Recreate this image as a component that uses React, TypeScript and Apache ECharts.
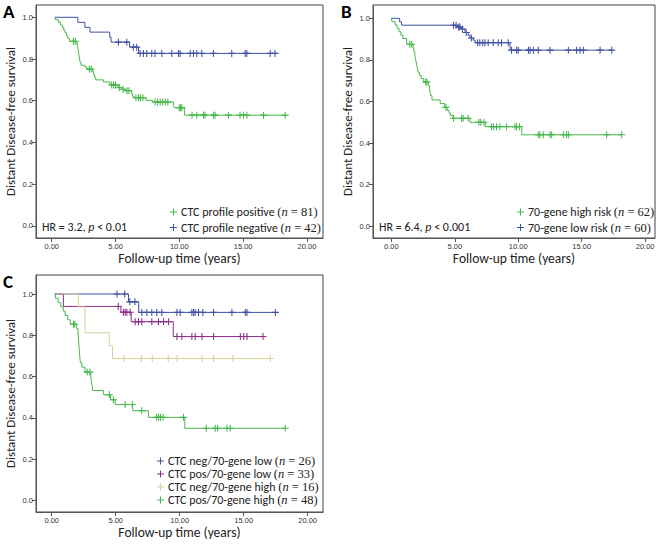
import React, { useEffect, useRef } from "react";
import * as echarts from "echarts";

// ---------- tick labels ----------
const xTickValues = [0, 5, 10, 15, 20];
const yTickValues = [0, 0.2, 0.4, 0.6, 0.8, 1.0];

// ---------- Panel A ----------
const aPosEventT = [0.25, 0.3, 0.55, 0.7, 0.85, 0.95, 1.05, 1.15, 1.25, 1.4, 1.96, 2.02, 2.06, 2.1, 2.13, 2.16, 2.19, 2.22, 2.3, 2.6, 2.75, 3.2, 3.27, 3.35, 3.45, 4.05, 4.57, 5.2, 5.5, 5.8, 6.27, 6.35, 6.45, 7.4, 7.9, 9.55, 9.6, 10.4];
const aPosEventS = [1.0, 0.988, 0.975, 0.963, 0.95, 0.938, 0.926, 0.913, 0.9, 0.885, 0.872, 0.86, 0.848, 0.835, 0.823, 0.81, 0.798, 0.785, 0.77, 0.762, 0.752, 0.74, 0.727, 0.714, 0.7, 0.69, 0.676, 0.663, 0.655, 0.648, 0.632, 0.622, 0.614, 0.602, 0.594, 0.58, 0.567, 0.531];
const aPosCensorT = [1.7, 1.85, 2.95, 3.1, 4.7, 4.85, 5.0, 5.3, 5.6, 5.9, 6.05, 6.6, 6.8, 6.95, 7.15, 8.1, 8.3, 8.5, 8.7, 8.9, 9.1, 10.0, 10.1, 10.2, 11.0, 11.37, 11.89, 12.02, 12.67, 12.8, 13.85, 14.76, 15.03, 15.29, 16.6, 18.3];

const aNegEventT = [0.25, 2.05, 2.6, 3.0, 4.55, 4.65, 6.1, 6.8];
const aNegEventS = [1.0, 0.976, 0.952, 0.929, 0.905, 0.881, 0.857, 0.827];
const aNegCensorT = [5.23, 5.88, 6.4, 6.66, 6.93, 7.19, 7.45, 7.84, 8.1, 8.63, 9.41, 9.93, 10.06, 10.85, 11.11, 11.37, 11.76, 12.67, 14.11, 15.16, 15.29, 17.12, 17.5];

// ---------- Panel B ----------
const bHighEventT = [0, 0.05, 0.3, 0.45, 0.6, 0.75, 0.9, 1.2, 1.72, 1.78, 1.85, 1.9, 1.95, 2.0, 2.05, 2.1, 2.2, 2.35, 2.55, 2.9, 3.0, 3.05, 3.1, 3.2, 3.85, 4.2, 4.4, 4.55, 4.65, 4.85, 6.2, 7.4, 10.28];
const bHighEventS = [1.0, 0.984, 0.968, 0.952, 0.935, 0.919, 0.903, 0.875, 0.855, 0.839, 0.823, 0.806, 0.79, 0.774, 0.758, 0.742, 0.726, 0.71, 0.694, 0.677, 0.661, 0.645, 0.629, 0.608, 0.59, 0.572, 0.557, 0.545, 0.533, 0.52, 0.5, 0.479, 0.44];
const bHighCensorT = [1.45, 1.6, 2.7, 2.8, 4.3, 4.9, 5.53, 5.66, 6.05, 6.9, 7.05, 7.3, 7.89, 8.05, 8.29, 8.55, 9.08, 9.74, 9.87, 10.1, 11.58, 11.71, 11.97, 12.5, 12.63, 13.55, 13.8, 13.95, 16.97, 18.16];

const bLowEventT = [0, 0.65, 0.8, 5.2, 5.5, 5.8, 6.05, 6.2, 6.45, 6.6, 9.35];
const bLowEventS = [1.0, 0.983, 0.967, 0.958, 0.949, 0.932, 0.918, 0.905, 0.895, 0.883, 0.847];
const bLowCensorT = [4.9, 5.1, 5.3, 5.4, 5.6, 5.9, 6.3, 6.8, 6.97, 7.2, 7.37, 7.63, 8.03, 8.42, 8.68, 9.21, 9.47, 9.87, 10.0, 10.8, 10.93, 11.19, 11.58, 12.5, 13.95, 14.6, 14.87, 15.13, 16.45, 17.37];

// ---------- Panel C ----------
const cNegLowEventT = [0.25, 6.0, 6.8];
const cNegLowEventS = [1.0, 0.962, 0.911];
const cNegLowCensorT = [5.1, 5.7, 6.1, 6.5, 7.04, 7.43, 7.82, 8.21, 8.6, 9.78, 10.04, 10.95, 11.08, 11.21, 11.47, 11.81, 12.65, 14.08, 15.13, 15.26, 17.48];

const cPosLowEventT = [0.25, 0.91, 5.4, 6.21, 9.5];
const cPosLowEventS = [1.0, 0.94, 0.912, 0.866, 0.794];
const cPosLowCensorT = [5.2, 5.6, 5.74, 5.87, 6.13, 6.52, 6.78, 7.04, 7.82, 8.34, 8.74, 9.13, 9.78, 10.17, 10.95, 11.21, 11.74, 12.65, 14.74, 15.0, 15.26, 16.51];

const cNegHighEventT = [0.25, 2.08, 2.6, 4.5, 4.75];
const cNegHighEventS = [1.0, 0.9375, 0.8125, 0.75, 0.6875];
const cNegHighCensorT = [5.63, 7.01, 7.85, 9.1, 9.8, 11.74, 12.65, 14.16, 17.08];

const cPosHighEventT = [0.2, 0.3, 0.5, 0.7, 0.9, 1.05, 1.25, 1.45, 1.95, 2.05, 2.08, 2.1, 2.12, 2.15, 2.18, 2.2, 2.25, 2.35, 2.6, 3.05, 3.1, 3.15, 3.2, 4.04, 4.6, 4.95, 6.34, 7.56, 10.4];
const cPosHighEventS = [1.0, 0.979, 0.958, 0.938, 0.917, 0.896, 0.875, 0.854, 0.833, 0.812, 0.792, 0.771, 0.75, 0.729, 0.708, 0.688, 0.667, 0.646, 0.622, 0.6, 0.578, 0.556, 0.533, 0.512, 0.488, 0.465, 0.435, 0.403, 0.35];
const cPosHighCensorT = [1.7, 1.8, 2.77, 2.98, 4.5, 4.82, 5.74, 6.3, 7.04, 8.2, 8.35, 8.5, 8.7, 10.3, 12.07, 12.78, 12.96, 13.69, 13.95, 18.25];

// ---------- legends ----------
const aLegendNames = ["CTC profile positive", "CTC profile negative"];
const aLegendN = [81, 42];
const bLegendNames = ["70-gene high risk", "70-gene low risk"];
const bLegendN = [62, 60];
const cLegendNames = ["CTC neg/70-gene low", "CTC pos/70-gene low", "CTC neg/70-gene high", "CTC pos/70-gene high"];
const cLegendN = [26, 33, 16, 48];

const GREEN = "#47b84d";
const BLUE = "#3f51a3";
const PURPLE = "#8c2d8a";
const TAN = "#d9d09c";

const PLUS = "path://M4.25,0H5.75V4.25H10V5.75H5.75V10H4.25V5.75H0V4.25H4.25Z";
const SANS = "Carlito, Lato, 'Open Sans', sans-serif";
const SERIF = "'Liberation Serif', 'DejaVu Serif', serif";

function kmData(eventT: number[], eventS: number[], censorT: number[]) {
  const pts: any[] = eventT.map((t, i) => ({ value: [t, eventS[i]], symbol: "none" }));
  const survAt = (t: number) => {
    let s = eventS[0];
    for (let i = 0; i < eventT.length; i++) if (eventT[i] <= t) s = eventS[i];
    return s;
  };
  censorT.forEach((t) => pts.push({ value: [t, survAt(t)], symbol: PLUS, symbolSize: 7 }));
  pts.sort((a, b) => a.value[0] - b.value[0]);
  return pts;
}

function kmSeries(name: string, color: string, idx: number, eventT: number[], eventS: number[], censorT: number[]) {
  return {
    type: "line",
    name,
    xAxisIndex: idx,
    yAxisIndex: idx,
    step: "end",
    symbol: PLUS,
    symbolSize: 7,
    showSymbol: true,
    showAllSymbol: true,
    data: kmData(eventT, eventS, censorT),
    lineStyle: { color, width: 1 },
    itemStyle: { color, borderWidth: 0 },
    emphasis: { disabled: true },
    silent: true,
    z: 3,
  };
}

function xAxisFor(idx: number, min: number, max: number) {
  return {
    type: "value",
    gridIndex: idx,
    min,
    max,
    name: "Follow-up time (years)",
    nameLocation: "middle",
    nameGap: 13,
    nameTextStyle: { fontFamily: SANS, fontSize: 13.5, fontWeight: "normal", color: "#222" },
    axisLine: { show: true, onZero: false, lineStyle: { color: "#555", width: 1 } },
    axisTick: { show: true, length: 4, customValues: xTickValues, lineStyle: { color: "#555" } },
    axisLabel: {
      customValues: xTickValues,
      formatter: (v: number) => v.toFixed(2),
      fontFamily: "'Liberation Sans', Arial, sans-serif",
      fontSize: 7.5,
      color: "#333",
      margin: 4,
    },
    splitLine: { show: false },
  };
}

function yAxisFor(idx: number, min: number, max: number) {
  return {
    type: "value",
    gridIndex: idx,
    min,
    max,
    name: "Distant Disease-free survival",
    nameLocation: "middle",
    nameGap: 19,
    nameTextStyle: { fontFamily: SANS, fontSize: 13, fontWeight: "normal", color: "#222" },
    axisLine: { show: true, onZero: false, lineStyle: { color: "#555", width: 1 } },
    axisTick: { show: true, length: 4, customValues: yTickValues, lineStyle: { color: "#555" } },
    axisLabel: {
      customValues: yTickValues,
      formatter: (v: number) => v.toFixed(1),
      fontFamily: "'Liberation Sans', Arial, sans-serif",
      fontSize: 7.5,
      color: "#333",
      margin: 3,
    },
    splitLine: { show: false },
  };
}

function legendFor(names: string[], ns: number[], left: number, top: number, lineHeight: number, gap: number) {
  return {
    data: names,
    orient: "vertical",
    left,
    top,
    padding: 0,
    itemGap: gap,
    itemWidth: 7,
    itemHeight: 7,
    icon: PLUS,
    selectedMode: false,
    formatter: (name: string) => {
      const n = ns[names.indexOf(name)];
      return `${name} {s|(}{i|n}{s| = ${n})}`;
    },
    textStyle: {
      fontFamily: SANS,
      fontSize: 12,
      color: "#222",
      lineHeight,
      padding: [0, 0, 0, -1],
      rich: {
        s: { fontFamily: SERIF, fontSize: 12.5, color: "#222", lineHeight },
        i: { fontFamily: SERIF, fontStyle: "italic", fontSize: 12.5, color: "#222", lineHeight },
      },
    },
  };
}

export default function App() {
  const ref = useRef<HTMLDivElement>(null);
  useEffect(() => {
    if (!ref.current) return;
    const chart = echarts.init(ref.current, null, { renderer: "svg" });
    const gridStyle = { show: true, borderColor: "#444", borderWidth: 1, backgroundColor: "#fff", containLabel: false };
    chart.setOption({
      animation: false,
      backgroundColor: "#fff",
      grid: [
        { ...gridStyle, left: 36, top: 5, width: 287, height: 233 },
        { ...gridStyle, left: 373, top: 5, width: 282, height: 233 },
        { ...gridStyle, left: 36, top: 275, width: 287, height: 237 },
      ],
      xAxis: [xAxisFor(0, -1.23, 21.26), xAxisFor(1, -1.45, 20.78), xAxisFor(2, -1.23, 21.2)],
      yAxis: [yAxisFor(0, -0.058, 1.059), yAxisFor(1, -0.056, 1.064), yAxisFor(2, -0.055, 1.092)],
      legend: [
        legendFor(aLegendNames, aLegendN, 170, 205, 14, 1.5),
        legendFor(bLegendNames, bLegendN, 517, 205, 14, 1.5),
        legendFor(cLegendNames, cLegendN, 157, 454.5, 12.3, 0),
      ],
      series: [
        kmSeries(aLegendNames[0], GREEN, 0, aPosEventT, aPosEventS, aPosCensorT),
        kmSeries(aLegendNames[1], BLUE, 0, aNegEventT, aNegEventS, aNegCensorT),
        kmSeries(bLegendNames[0], GREEN, 1, bHighEventT, bHighEventS, bHighCensorT),
        kmSeries(bLegendNames[1], BLUE, 1, bLowEventT, bLowEventS, bLowCensorT),
        kmSeries(cLegendNames[0], BLUE, 2, cNegLowEventT, cNegLowEventS, cNegLowCensorT),
        kmSeries(cLegendNames[1], PURPLE, 2, cPosLowEventT, cPosLowEventS, cPosLowCensorT),
        kmSeries(cLegendNames[2], TAN, 2, cNegHighEventT, cNegHighEventS, cNegHighCensorT),
        kmSeries(cLegendNames[3], GREEN, 2, cPosHighEventT, cPosHighEventS, cPosHighCensorT),
      ],
      graphic: [
        { type: "text", left: 3, top: 2, style: { text: "A", fontFamily: SANS, fontWeight: "bold", fontSize: 19, fill: "#000" } },
        { type: "text", left: 341, top: 2, style: { text: "B", fontFamily: SANS, fontWeight: "bold", fontSize: 19, fill: "#000" } },
        { type: "text", left: 3, top: 272, style: { text: "C", fontFamily: SANS, fontWeight: "bold", fontSize: 19, fill: "#000" } },
        {
          type: "text", left: 42, top: 221,
          style: {
            text: "HR = 3.2, {i|p} < 0.01", fontFamily: SANS, fontSize: 12, fill: "#222",
            rich: { i: { fontFamily: SANS, fontStyle: "italic", fontSize: 12, fill: "#222" } },
          },
        },
        {
          type: "text", left: 379, top: 221,
          style: {
            text: "HR = 6.4, {i|p} < 0.001", fontFamily: SANS, fontSize: 12, fill: "#222",
            rich: { i: { fontFamily: SANS, fontStyle: "italic", fontSize: 12, fill: "#222" } },
          },
        },
      ],
    });
    return () => chart.dispose();
  }, []);
  return (
    <div
      ref={ref}
      style={{ position: "fixed", left: 0, top: 0, width: 661, height: 546, background: "#fff" }}
    />
  );
}
